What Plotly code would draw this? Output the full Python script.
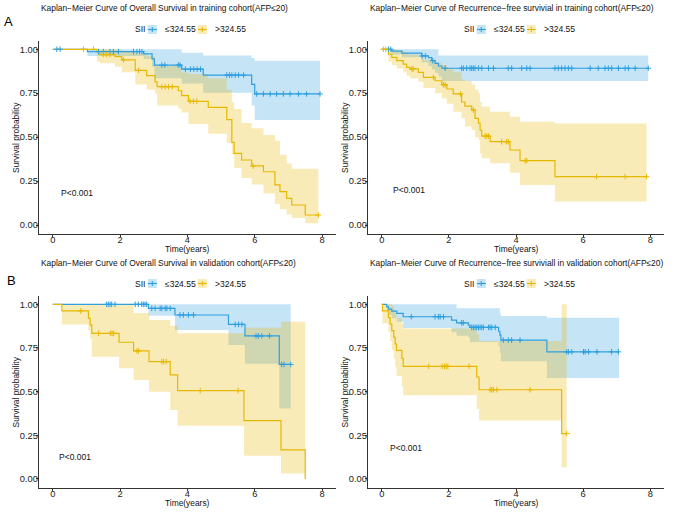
import plotly.graph_objects as go

W, H = 690, 518
BLUE = "#2E9FDF"
YELLOW = "#E7B800"
BLUE_FILL = "rgba(46,159,223,0.28)"
YELLOW_FILL = "rgba(231,184,0,0.28)"
FONT = "Liberation Sans, Arial, Helvetica, sans-serif"

# ---------------- data ----------------
titles = [
    "Kaplan\u2212Meier Curve of Overall Survival in training cohort(AFP\u226420)",
    "Kaplan\u2212Meier Curve of Recurrence\u2212free survivial in training cohort(AFP\u226420)",
    "Kaplan\u2212Meier Curve of Overall Survival in validation cohort(AFP\u226420)",
    "Kaplan\u2212Meier Curve of Recurrence\u2212free surviviall in validation cohort(AFP\u226420)",
]
legend_title = "SII"
group_labels = ["\u2264324.55", ">324.55"]
p_text = "P<0.001"
x_title = "Time(years)"
y_title = "Survival probability"
panel_letters = ["A", "B"]
x_tickvals = [0, 2, 4, 6, 8]
y_tickvals = [0, 0.25, 0.5, 0.75, 1.0]
y_ticktext = ["0.00", "0.25", "0.50", "0.75", "1.00"]

# Panel 1: OS, training
t1b = [1.03, 2.70, 2.95, 3.02, 3.83, 4.47, 5.91, 6.00]
s1b = [0.987, 0.974, 0.945, 0.910, 0.887, 0.853, 0.800, 0.746]
lo1b = [0.962, 0.945, 0.90, 0.835, 0.805, 0.752, 0.68, 0.598]
up1b = [1.0, 1.0, 1.0, 1.0, 0.98, 0.965, 0.95, 0.935]
end1b = 7.94
cens1b = [0.12, 0.22, 1.36, 1.50, 1.70, 1.80, 1.95, 2.40, 2.50, 2.58, 2.65, 3.24, 3.33,
          3.73, 3.78, 3.94, 4.09, 4.19, 4.29, 4.39, 5.17, 5.25, 5.32, 5.42, 5.52, 5.67,
          6.06, 6.26, 6.46, 6.65, 6.85, 7.05, 7.30, 7.54, 7.94]

t1y = [1.31, 1.40, 1.85, 2.05, 2.45, 2.79, 3.04, 3.10, 3.73, 3.83, 4.03, 4.62, 5.17,
       5.32, 5.39, 5.61, 5.91, 6.26, 6.60, 6.75, 6.95, 7.10, 7.50]
s1y = [0.985, 0.97, 0.958, 0.94, 0.88, 0.85, 0.815, 0.787, 0.764, 0.736, 0.704, 0.67,
       0.60, 0.47, 0.408, 0.37, 0.336, 0.303, 0.228, 0.19, 0.152, 0.114, 0.057]
lo1y = [0.93, 0.92, 0.90, 0.87, 0.80, 0.77, 0.745, 0.68, 0.66, 0.64, 0.575, 0.52, 0.466,
        0.40, 0.324, 0.267, 0.23, 0.18, 0.12, 0.09, 0.06, 0.04, 0.01]
up1y = [1.0, 1.0, 1.0, 0.99, 0.975, 0.96, 0.91, 0.905, 0.89, 0.87, 0.86, 0.835, 0.77,
        0.70, 0.66, 0.58, 0.55, 0.512, 0.48, 0.40, 0.35, 0.32, 0.32]
end1y = 7.89
cens1y = [0.91, 1.21, 1.50, 1.60, 1.70, 2.10, 2.55, 3.24, 3.34, 3.44, 3.55, 4.08, 4.18,
          4.28, 5.95, 7.89]

# Panel 2: RFS, training
t2b = [0.30, 0.60, 1.19, 1.39, 1.49, 1.59, 1.69, 1.79]
s2b = [0.99, 0.978, 0.962, 0.952, 0.935, 0.92, 0.905, 0.892]
lo2b = [0.97, 0.955, 0.925, 0.905, 0.885, 0.865, 0.845, 0.82]
up2b = [1.0, 1.0, 1.0, 1.0, 1.0, 1.0, 0.965, 0.965]
end2b = 7.94
cens2b = [0.20, 0.27, 1.20, 1.30, 1.52, 1.89, 2.38, 2.43, 2.53, 2.63, 2.68, 2.73, 2.78,
          2.88, 2.98, 3.18, 3.33, 3.77, 3.87, 4.17, 4.32, 4.42, 5.16, 5.26, 5.36, 5.46,
          5.56, 5.66, 6.21, 6.45, 6.65, 6.75, 6.85, 7.05, 7.25, 7.35, 7.55, 7.94]

t2y = [0.20, 0.30, 0.45, 0.64, 0.74, 0.84, 1.09, 1.24, 1.59, 1.79, 1.94, 2.13, 2.38,
       2.48, 2.68, 2.78, 2.88, 2.93, 2.98, 3.23, 3.82, 4.12, 5.16]
s2y = [0.973, 0.954, 0.935, 0.916, 0.897, 0.888, 0.869, 0.84, 0.821, 0.798, 0.774, 0.746,
       0.70, 0.677, 0.655, 0.607, 0.579, 0.54, 0.506, 0.474, 0.427, 0.366, 0.275]
lo2y = [0.93, 0.91, 0.89, 0.87, 0.85, 0.835, 0.815, 0.78, 0.75, 0.72, 0.69, 0.645, 0.607,
        0.56, 0.54, 0.50, 0.484, 0.408, 0.38, 0.351, 0.298, 0.228, 0.134]
up2y = [1.0, 1.0, 0.99, 0.985, 0.975, 0.97, 0.96, 0.94, 0.925, 0.91, 0.89, 0.87, 0.83,
        0.82, 0.80, 0.77, 0.75, 0.70, 0.673, 0.645, 0.616, 0.588, 0.578]
end2y = 7.89
cens2y = [0.05, 0.12, 0.90, 0.94, 1.54, 1.84, 1.89, 2.35, 2.73, 3.08, 3.13, 3.18, 3.57,
          3.72, 3.77, 4.27, 4.32, 6.40, 7.25, 7.89]

# Panel 3: OS, validation
t3b = [2.84, 3.63, 5.22, 5.71, 6.73]
s3b = [0.977, 0.939, 0.885, 0.819, 0.656]
lo3b = [0.935, 0.853, 0.767, 0.66, 0.404]
up3b = [1.0, 1.0, 1.0, 1.0, 1.0]
end3b = 7.07
cens3b = [1.60, 1.65, 1.70, 1.75, 1.85, 2.45, 2.54, 2.64, 2.69, 2.74, 2.79, 2.94, 3.04,
          3.19, 3.24, 3.34, 3.39, 3.49, 3.78, 3.88, 4.03, 4.18, 5.42, 5.52, 5.62, 6.04,
          6.11, 6.21, 6.44, 6.80, 6.87, 7.07]

t3y = [0.27, 1.06, 1.11, 1.16, 1.97, 2.40, 2.86, 3.49, 3.71, 5.68, 6.78, 7.50]
s3y = [0.962, 0.92, 0.882, 0.834, 0.783, 0.733, 0.672, 0.596, 0.506, 0.334, 0.167, 0.0]
lo3y = [0.885, 0.85, 0.80, 0.70, 0.634, 0.567, 0.50, 0.395, 0.305, 0.133, 0.032, None]
up3y = [1.0, 1.0, 1.0, 1.0, 1.0, 0.95, 0.91, 0.878, 0.834, 0.866, 0.90, None]
end3y = 7.50
cens3y = [0.83, 1.36, 1.71, 1.76, 1.81, 2.50, 2.55, 3.24, 3.29, 3.37, 4.38, 5.51]

# Panel 4: RFS, validation
t4b = [0.15, 0.20, 0.30, 0.45, 0.64, 2.08, 2.23, 2.58, 2.63, 3.48, 3.52, 3.55, 4.92]
s4b = [0.986, 0.973, 0.961, 0.948, 0.929, 0.91, 0.894, 0.881, 0.868, 0.846, 0.824, 0.795, 0.728]
lo4b = [0.96, 0.94, 0.92, 0.90, 0.865, 0.84, 0.82, 0.81, 0.785, 0.76, 0.72, 0.674, 0.578]
up4b = [1.0, 1.0, 1.0, 1.0, 1.0, 1.0, 0.977, 0.977, 0.977, 0.977, 0.95, 0.933, 0.923]
end4b = 7.07
cens4b = [0.88, 1.59, 1.69, 1.74, 1.84, 2.38, 2.43, 2.68, 2.73, 2.78, 2.83, 2.88, 2.93,
          2.98, 3.03, 3.18, 3.23, 3.28, 3.38, 3.62, 3.77, 3.87, 4.12, 5.51, 5.56, 5.66,
          6.01, 6.06, 6.16, 6.41, 6.85, 7.05]

t4y = [0.02, 0.20, 0.25, 0.30, 0.36, 0.40, 0.44, 0.60, 0.64, 2.83, 2.90, 5.36]
s4y = [0.962, 0.924, 0.887, 0.849, 0.811, 0.774, 0.736, 0.69, 0.645, 0.584, 0.511, 0.26]
lo4y = [0.89, 0.84, 0.79, 0.74, 0.69, 0.64, 0.59, 0.53, 0.479, 0.40, 0.335, 0.067]
up4y = [1.0, 1.0, 1.0, 0.99, 0.97, 0.95, 0.92, 0.89, 0.862, 0.83, 0.79, 1.0]
end4y = 5.51
cens4y = [1.40, 1.80, 1.87, 1.92, 1.97, 2.60, 3.23, 3.28, 3.33, 3.43, 4.42, 5.51]

# P-value label positions (data units of each panel)
p_pos = [(0.73, 0.18), (0.81, 0.20), (0.67, 0.128), (0.71, 0.178)]

panels = [
    dict(blue=(t1b, s1b, lo1b, up1b, end1b, cens1b), yellow=(t1y, s1y, lo1y, up1y, end1y, cens1y)),
    dict(blue=(t2b, s2b, lo2b, up2b, end2b, cens2b), yellow=(t2y, s2y, lo2y, up2y, end2y, cens2y)),
    dict(blue=(t3b, s3b, lo3b, up3b, end3b, cens3b), yellow=(t3y, s3y, lo3y, up3y, end3y, cens3y)),
    dict(blue=(t4b, s4b, lo4b, up4b, end4b, cens4b), yellow=(t4y, s4y, lo4y, up4y, end4y, cens4y)),
]

# ---------------- layout geometry (pixels) ----------------
# (left, right, top, bottom) of each panel's plotting area
panel_px = [(39.3, 335.5, 40.5, 233.8), (368.3, 663.7, 40.5, 233.8),
            (39.3, 335.5, 295.6, 487.7), (368.3, 663.7, 295.6, 487.7)]
title_y = [7.5, 7.5, 262.5, 262.5]
legend_y = [29.5, 29.5, 283.5, 283.5]


def pxx(x):
    return x / W


def pxy(y):
    return 1 - y / H


def step_value(t, times, vals):
    v = 1.0
    for ti, vi in zip(times, vals):
        if t >= ti and vi is not None:
            v = vi
    return v


fig = go.Figure()


def axis_names(i):
    return ("x", "y") if i == 0 else (f"x{i+1}", f"y{i+1}")


for i, p in enumerate(panels):
    xa, ya = axis_names(i)
    # confidence bands
    for key, fill in (("blue", BLUE_FILL), ("yellow", YELLOW_FILL)):
        times, surv, lo, up, end, cens = p[key]
        valid = [k for k in range(len(times)) if lo[k] is not None]
        bx = [0.0] + [times[k] for k in valid] + [end]
        bu = [1.0] + [up[k] for k in valid] + [up[valid[-1]]]
        bl = [1.0] + [lo[k] for k in valid] + [lo[valid[-1]]]
        fig.add_trace(go.Scatter(x=bx, y=bu, mode="lines", line=dict(width=0, shape="hv"),
                                 xaxis=xa, yaxis=ya, showlegend=False, hoverinfo="skip"))
        fig.add_trace(go.Scatter(x=bx, y=bl, mode="lines", line=dict(width=0, shape="hv"),
                                 fill="tonexty", fillcolor=fill,
                                 xaxis=xa, yaxis=ya, showlegend=False, hoverinfo="skip"))
    # step lines
    for key, color in (("blue", BLUE), ("yellow", YELLOW)):
        times, surv, lo, up, end, cens = p[key]
        lx = [0.0] + list(times)
        ly = [1.0] + list(surv)
        if end > times[-1]:
            lx.append(end)
            ly.append(surv[-1])
        fig.add_trace(go.Scatter(x=lx, y=ly, mode="lines", line=dict(color=color, width=1.2, shape="hv"),
                                 xaxis=xa, yaxis=ya, showlegend=False, hoverinfo="skip"))
    # censor marks
    for key, color in (("blue", BLUE), ("yellow", YELLOW)):
        times, surv, lo, up, end, cens = p[key]
        cy = [step_value(c, times, surv) for c in cens]
        fig.add_trace(go.Scatter(x=cens, y=cy, mode="markers",
                                 marker=dict(symbol="cross-thin", size=4, line=dict(color=color, width=1)),
                                 xaxis=xa, yaxis=ya, showlegend=False, hoverinfo="skip"))

layout = dict(width=W, height=H, margin=dict(l=0, r=0, t=0, b=0, autoexpand=False),
              paper_bgcolor="white", plot_bgcolor="white", showlegend=False,
              font=dict(family=FONT, size=9, color="#222"))

annotations = []
shapes = []
for i in range(4):
    L, R, T, B = panel_px[i]
    xk = "xaxis" if i == 0 else f"xaxis{i+1}"
    yk = "yaxis" if i == 0 else f"yaxis{i+1}"
    xa, ya = axis_names(i)
    layout[xk] = dict(domain=[pxx(L), pxx(R)], range=[-0.4, 8.4], anchor=ya, automargin=False,
                      tickvals=x_tickvals, ticks="outside", ticklen=2.5, tickcolor="#333",
                      ticklabelstandoff=-5,
                      showline=True, linecolor="#333", linewidth=1, showgrid=False, zeroline=False,
                      tickfont=dict(size=9.3, color="#222"))
    layout[yk] = dict(domain=[pxy(B), pxy(T)], range=[-0.05, 1.05], anchor=xa, automargin=False,
                      tickvals=y_tickvals, ticktext=y_ticktext, ticks="outside", ticklen=2.5,
                      ticklabelstandoff=-4,
                      tickcolor="#333", showline=True, linecolor="#333", linewidth=1,
                      showgrid=False, zeroline=False, tickfont=dict(size=9.3, color="#222"))
    # title
    annotations.append(dict(text=titles[i], xref="paper", yref="paper", x=pxx(L), y=pxy(title_y[i]),
                            xanchor="left", yanchor="middle", showarrow=False,
                            font=dict(size=8.4, color="#111")))
    # axis titles
    annotations.append(dict(text=x_title, xref="paper", yref="paper", x=pxx((L + R) / 2), y=pxy(B + 15.5),
                            xanchor="center", yanchor="middle", showarrow=False,
                            font=dict(size=8.4, color="#111")))
    annotations.append(dict(text=y_title, xref="paper", yref="paper", x=pxx(L - 23.5), y=pxy((T + B) / 2),
                            xanchor="center", yanchor="middle", showarrow=False, textangle=-90,
                            font=dict(size=8.4, color="#111")))
    # p-value
    annotations.append(dict(text=p_text, xref=xa, yref=ya, x=p_pos[i][0], y=p_pos[i][1],
                            xanchor="center", yanchor="middle", showarrow=False,
                            font=dict(size=8.5, color="#111")))
    # legend
    ly_ = legend_y[i]
    annotations.append(dict(text=legend_title, xref="paper", yref="paper", x=pxx(L + 94), y=pxy(ly_),
                            xanchor="left", yanchor="middle", showarrow=False,
                            font=dict(size=8.5, color="#111")))
    for g, (kx, tx, col, fcol) in enumerate(((L + 113, L + 124, BLUE, BLUE_FILL),
                                             (L + 163, L + 174, YELLOW, YELLOW_FILL))):
        shapes.append(dict(type="rect", xref="paper", yref="paper",
                           x0=pxx(kx - 4.5), x1=pxx(kx + 4.5), y0=pxy(ly_ - 4.5), y1=pxy(ly_ + 4.5),
                           fillcolor=fcol, line=dict(width=0)))
        shapes.append(dict(type="line", xref="paper", yref="paper",
                           x0=pxx(kx - 4.5), x1=pxx(kx + 4.5), y0=pxy(ly_), y1=pxy(ly_),
                           line=dict(color=col, width=1.2)))
        shapes.append(dict(type="line", xref="paper", yref="paper",
                           x0=pxx(kx), x1=pxx(kx), y0=pxy(ly_ - 2.5), y1=pxy(ly_ + 2.5),
                           line=dict(color=col, width=1)))
        annotations.append(dict(text=group_labels[g], xref="paper", yref="paper", x=pxx(tx), y=pxy(ly_),
                                xanchor="left", yanchor="middle", showarrow=False,
                                font=dict(size=8.5, color="#111")))

# panel letters
annotations.append(dict(text=panel_letters[0], xref="paper", yref="paper", x=pxx(8), y=pxy(21),
                        xanchor="center", yanchor="middle", showarrow=False, font=dict(size=13, color="#000")))
annotations.append(dict(text=panel_letters[1], xref="paper", yref="paper", x=pxx(11.5), y=pxy(280),
                        xanchor="center", yanchor="middle", showarrow=False, font=dict(size=13, color="#000")))

layout["annotations"] = annotations
layout["shapes"] = shapes
fig.update_layout(**layout)
fig.write_html("out.html", config={"displayModeBar": False},
               post_script="document.body.style.margin='0px';document.body.style.overflow='hidden';")
